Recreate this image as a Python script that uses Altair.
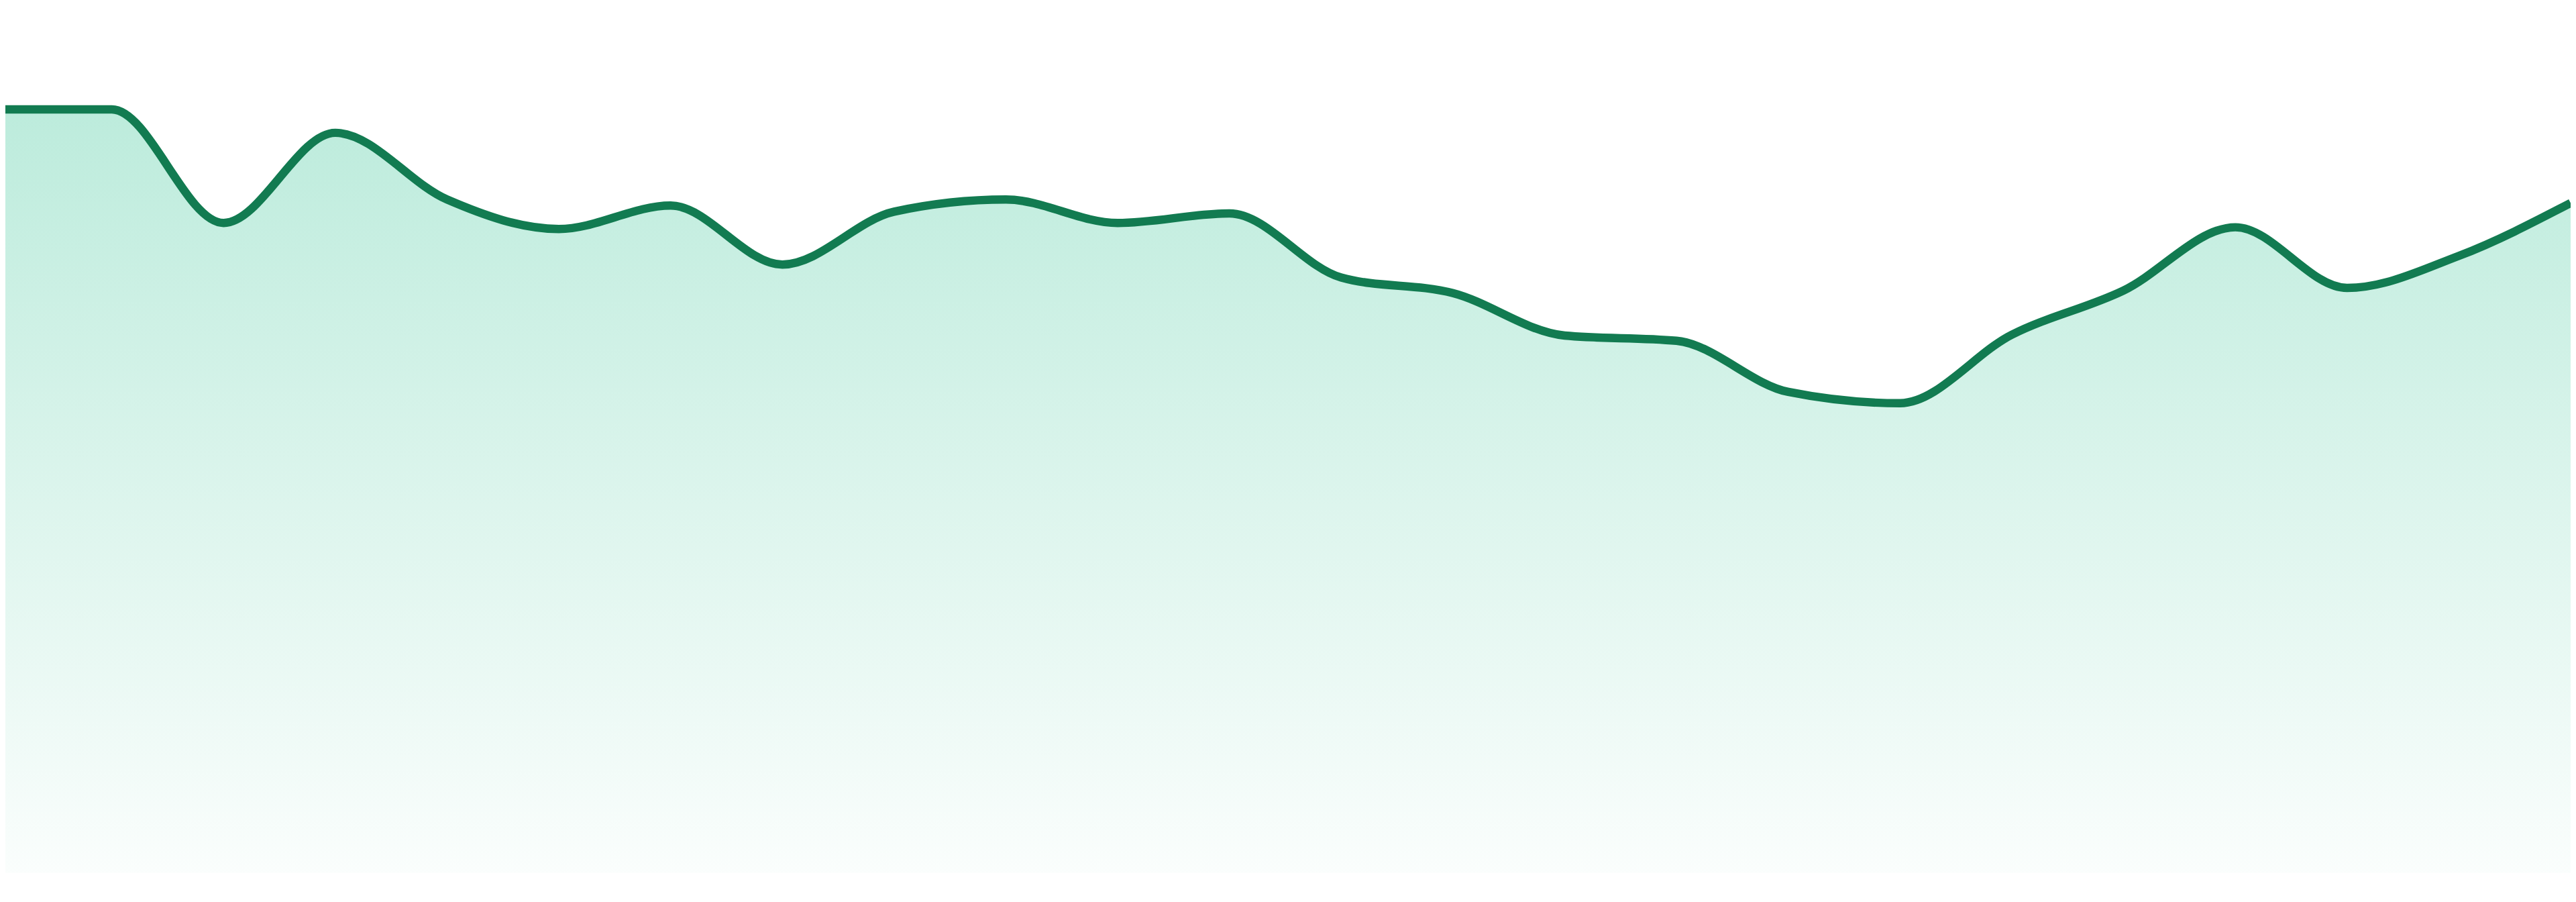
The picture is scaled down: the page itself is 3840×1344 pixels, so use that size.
import altair as alt
import pandas as pd

# Data (24 evenly spaced points)
index = list(range(24))
values = [88.1, 88.1, 75.0, 85.4, 77.7, 74.3, 77.0, 70.2,
          76.3, 77.7, 75.0, 76.1, 68.7, 66.9, 62.0, 61.4,
          55.5, 54.2, 62.1, 67.2, 74.5, 67.5, 71.2, 77.3]

df = pd.DataFrame({"i": index, "v": values})

W = 3832
H = 1294

# the reference starts at the very left edge of the window; shift the domain so the
# first point sits just beyond the page margin and is clipped, as in the reference
x_enc = alt.X("i:Q", axis=None,
              scale=alt.Scale(domain=[0.0479, 23], nice=False, zero=False))
y_enc = alt.Y("v:Q", axis=None, scale=alt.Scale(domain=[0, 100], nice=False, zero=True))

area = alt.Chart(df).mark_area(
    interpolate="monotone",
    clip=True,
    color=alt.Gradient(
        gradient="linear",
        x1=0, y1=0, x2=0, y2=1,
        stops=[
            alt.GradientStop(color="rgba(16,185,129,0.28)", offset=0),
            alt.GradientStop(color="rgba(16,185,129,0.16)", offset=0.45),
            alt.GradientStop(color="rgba(16,185,129,0.02)", offset=1),
        ],
    ),
).encode(x=x_enc, y=y_enc)

line = alt.Chart(df).mark_line(
    interpolate="monotone",
    clip=True,
    color="#127b51",
    strokeWidth=12.5,
    strokeCap="butt",
).encode(x=x_enc, y=y_enc)

chart = alt.layer(area, line).properties(
    width=W,
    height=H,
    padding=0,
    autosize=alt.AutoSizeParams(type="none"),
    background="white",
).configure_view(strokeWidth=0)

chart.save("out.html", embed_options={"renderer": "svg", "actions": False})
